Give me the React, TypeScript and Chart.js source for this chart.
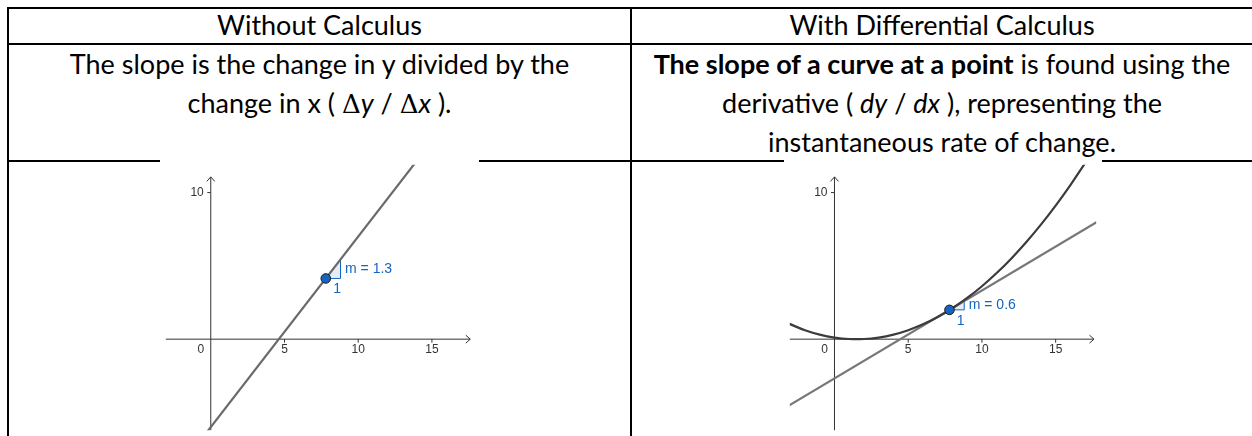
import React, { useEffect, useRef } from "react";
import { Chart, registerables } from "chart.js";

Chart.register(...registerables);

// ---- Left panel: a straight line and its slope ----
const lineX = [-0.6, 14.6];
const lineY = [-6.78, 12.98];
const lineSlope = 1.3;
const linePointX = [7.8];
const linePointY = [4.14];

// ---- Right panel: a curve, its tangent at a point, and the slope there ----
const curveX = [-3.1, -2, -1, 0, 1, 2, 3, 4, 5, 6, 7, 8, 9, 10, 11, 12, 13, 14, 15, 16, 17];
const curveY = [1.06, 0.61, 0.31, 0.11, 0.01, 0.01, 0.11, 0.31, 0.61, 1.01, 1.51, 2.11, 2.81, 3.61, 4.51, 5.51, 6.61, 7.81, 9.11, 10.51, 12.01];
const tangentX = [-3.2, 17.8];
const tangentY = [-4.6, 8.0];
const tangentSlope = 0.6;
const tangentPointX = [7.8];
const tangentPointY = [2.0];

// ---- Axis ticks ----
const xTickValues = [5, 10, 15];
const yTickValues = [10];
const originLabel = "0";

type Pt = { x: number; y: number };
const zip = (xs: number[], ys: number[]): Pt[] => xs.map((x, i) => ({ x, y: ys[i] }));

type GraphProps = {
  left: number;
  width: number;
  xMin: number;
  xMax: number;
  datasets: any[];
  slopeAt: Pt;
  slope: number;
};

const TOP = 159;
const HEIGHT = 277;
const Y_MIN = -6.21;
const Y_MAX = 11.895;
const X_ARROW = 17.6;
const Y_ARROW = 11.07;

function Graph({ left, width, xMin, xMax, datasets, slopeAt, slope }: GraphProps) {
  const ref = useRef<HTMLCanvasElement | null>(null);

  useEffect(() => {
    if (!ref.current) return;

    const axesPlugin = {
      id: "crossAxes",
      beforeDatasetsDraw(chart: any) {
        const ctx = chart.ctx as CanvasRenderingContext2D;
        const xs = chart.scales.x;
        const ys = chart.scales.y;
        const px = (v: number) => xs.getPixelForValue(v);
        const py = (v: number) => ys.getPixelForValue(v);
        const area = chart.chartArea;
        const x0 = px(0);
        const y0 = py(0);
        ctx.save();
        ctx.strokeStyle = "#333";
        ctx.lineWidth = 1;

        // x axis with arrow
        const xt = px(X_ARROW);
        ctx.beginPath();
        ctx.moveTo(area.left, y0);
        ctx.lineTo(xt, y0);
        ctx.stroke();
        ctx.beginPath();
        ctx.moveTo(xt - 4.5, y0 - 4);
        ctx.lineTo(xt, y0);
        ctx.lineTo(xt - 4.5, y0 + 4);
        ctx.stroke();

        // y axis with arrow
        const yt = py(Y_ARROW);
        ctx.beginPath();
        ctx.moveTo(x0, area.bottom);
        ctx.lineTo(x0, yt);
        ctx.stroke();
        ctx.beginPath();
        ctx.moveTo(x0 - 4, yt + 4.5);
        ctx.lineTo(x0, yt);
        ctx.lineTo(x0 + 4, yt + 4.5);
        ctx.stroke();

        // tick marks
        ctx.beginPath();
        xTickValues.forEach((t) => {
          ctx.moveTo(px(t), y0);
          ctx.lineTo(px(t), y0 + 3.5);
        });
        yTickValues.forEach((t) => {
          ctx.moveTo(x0 - 3.5, py(t));
          ctx.lineTo(x0, py(t));
        });
        ctx.stroke();

        // tick labels
        ctx.fillStyle = "#333";
        ctx.font = '12px "Liberation Sans", Arial, sans-serif';
        ctx.textBaseline = "middle";
        ctx.textAlign = "center";
        xTickValues.forEach((t) => ctx.fillText(String(t), px(t), y0 + 11));
        ctx.fillText(originLabel, x0 - 10, y0 + 11);
        ctx.textAlign = "right";
        yTickValues.forEach((t) => ctx.fillText(String(t), x0 - 7, py(t)));

        // slope triangle: run of 1, rise of m
        const ax = px(slopeAt.x);
        const ay = py(slopeAt.y);
        const bx = px(slopeAt.x + 1);
        const cy = py(slopeAt.y + slope);
        ctx.beginPath();
        ctx.moveTo(ax, ay);
        ctx.lineTo(bx, ay);
        ctx.lineTo(bx, cy);
        ctx.closePath();
        ctx.fillStyle = "rgba(21, 101, 192, 0.12)";
        ctx.fill();
        ctx.strokeStyle = "#1565c0";
        ctx.stroke();

        ctx.fillStyle = "#1565c0";
        ctx.font = '14px "Liberation Sans", Arial, sans-serif';
        ctx.textAlign = "left";
        ctx.textBaseline = "middle";
        ctx.fillText(`m = ${slope}`, bx + 4.5, (ay + cy) / 2);
        ctx.fillText("1", (ax + bx) / 2, ay + 11);
        ctx.restore();
      },
    };

    const chart = new Chart(ref.current, {
      type: "scatter",
      data: { datasets },
      options: {
        animation: false,
        responsive: false,
        maintainAspectRatio: false,
        events: [],
        layout: { padding: 0 },
        plugins: { legend: { display: false }, tooltip: { enabled: false } },
        scales: {
          x: { type: "linear", min: xMin, max: xMax, display: false },
          y: { type: "linear", min: Y_MIN, max: Y_MAX, display: false },
        },
      },
      plugins: [axesPlugin],
    });
    return () => chart.destroy();
  }, []);

  return (
    <canvas
      ref={ref}
      width={width}
      height={HEIGHT}
      style={{ position: "absolute", left, top: TOP, width, height: HEIGHT, background: "#fff" }}
    />
  );
}

const pointStyle = {
  showLine: false,
  pointRadius: 4.8,
  pointBackgroundColor: "#1565c0",
  pointBorderColor: "#1a1a1a",
  pointBorderWidth: 1,
};

const leftDatasets = [
  { data: zip(linePointX, linePointY), ...pointStyle },
  {
    data: zip(lineX, lineY),
    showLine: true,
    pointRadius: 0,
    borderColor: "#6a6a6a",
    borderWidth: 2.2,
  },
];

const rightDatasets = [
  { data: zip(tangentPointX, tangentPointY), ...pointStyle },
  {
    data: zip(curveX, curveY),
    showLine: true,
    pointRadius: 0,
    borderColor: "#3c3c3c",
    borderWidth: 2.2,
    tension: 0.4,
  },
  {
    data: zip(tangentX, tangentY),
    showLine: true,
    pointRadius: 0,
    borderColor: "#777",
    borderWidth: 2.2,
  },
];

const rule = (s: React.CSSProperties) => (
  <div style={{ position: "absolute", background: "#000", ...s }} />
);

const cellText: React.CSSProperties = {
  position: "absolute",
  textAlign: "center",
  fontSize: 27,
  whiteSpace: "nowrap",
};

const delta = (
  <span style={{ fontFamily: '"DejaVu Serif", "Liberation Serif", serif', fontSize: 26 }}>Δ</span>
);

export default function App() {
  return (
    <div
      style={{
        position: "fixed",
        left: 0,
        top: 0,
        width: 1252,
        height: 436,
        overflow: "hidden",
        background: "#fff",
        color: "#000",
        fontFamily: 'Lato, "Open Sans", sans-serif',
      }}
    >
      {rule({ left: 7, top: 7, width: 1250, height: 2 })}
      {rule({ left: 7, top: 43, width: 1250, height: 2 })}
      {rule({ left: 7, top: 160, width: 1250, height: 2 })}
      {rule({ left: 7, top: 7, width: 2, height: 430 })}
      {rule({ left: 630, top: 7, width: 2, height: 430 })}

      <div style={{ ...cellText, left: 9, top: 8, width: 621, height: 34, lineHeight: "34px" }}>
        Without Calculus
      </div>
      <div style={{ ...cellText, left: 632, top: 8, width: 620, height: 34, lineHeight: "34px" }}>
        With Differential Calculus
      </div>

      <div style={{ ...cellText, left: 9, top: 43.5, width: 621, lineHeight: "39.3px" }}>
        <div>The slope is the change in y divided by the</div>
        <div>
          change in x ( {delta}
          <i>y</i> / {delta}
          <i>x</i> ).
        </div>
      </div>
      <div style={{ ...cellText, left: 632, top: 43.5, width: 620, lineHeight: "39.3px" }}>
        <div>
          <b>The slope of a curve at a point</b> is found using the
        </div>
        <div>
          derivative ( <i>dy</i> / <i>dx</i> ), representing the
        </div>
        <div>instantaneous rate of change.</div>
      </div>

      <Graph
        left={160}
        width={319}
        xMin={-3.05}
        xMax={17.8}
        datasets={leftDatasets}
        slopeAt={{ x: linePointX[0], y: linePointY[0] }}
        slope={lineSlope}
      />
      <Graph
        left={784}
        width={318}
        xMin={-3.03}
        xMax={17.75}
        datasets={rightDatasets}
        slopeAt={{ x: tangentPointX[0], y: tangentPointY[0] }}
        slope={tangentSlope}
      />
    </div>
  );
}
